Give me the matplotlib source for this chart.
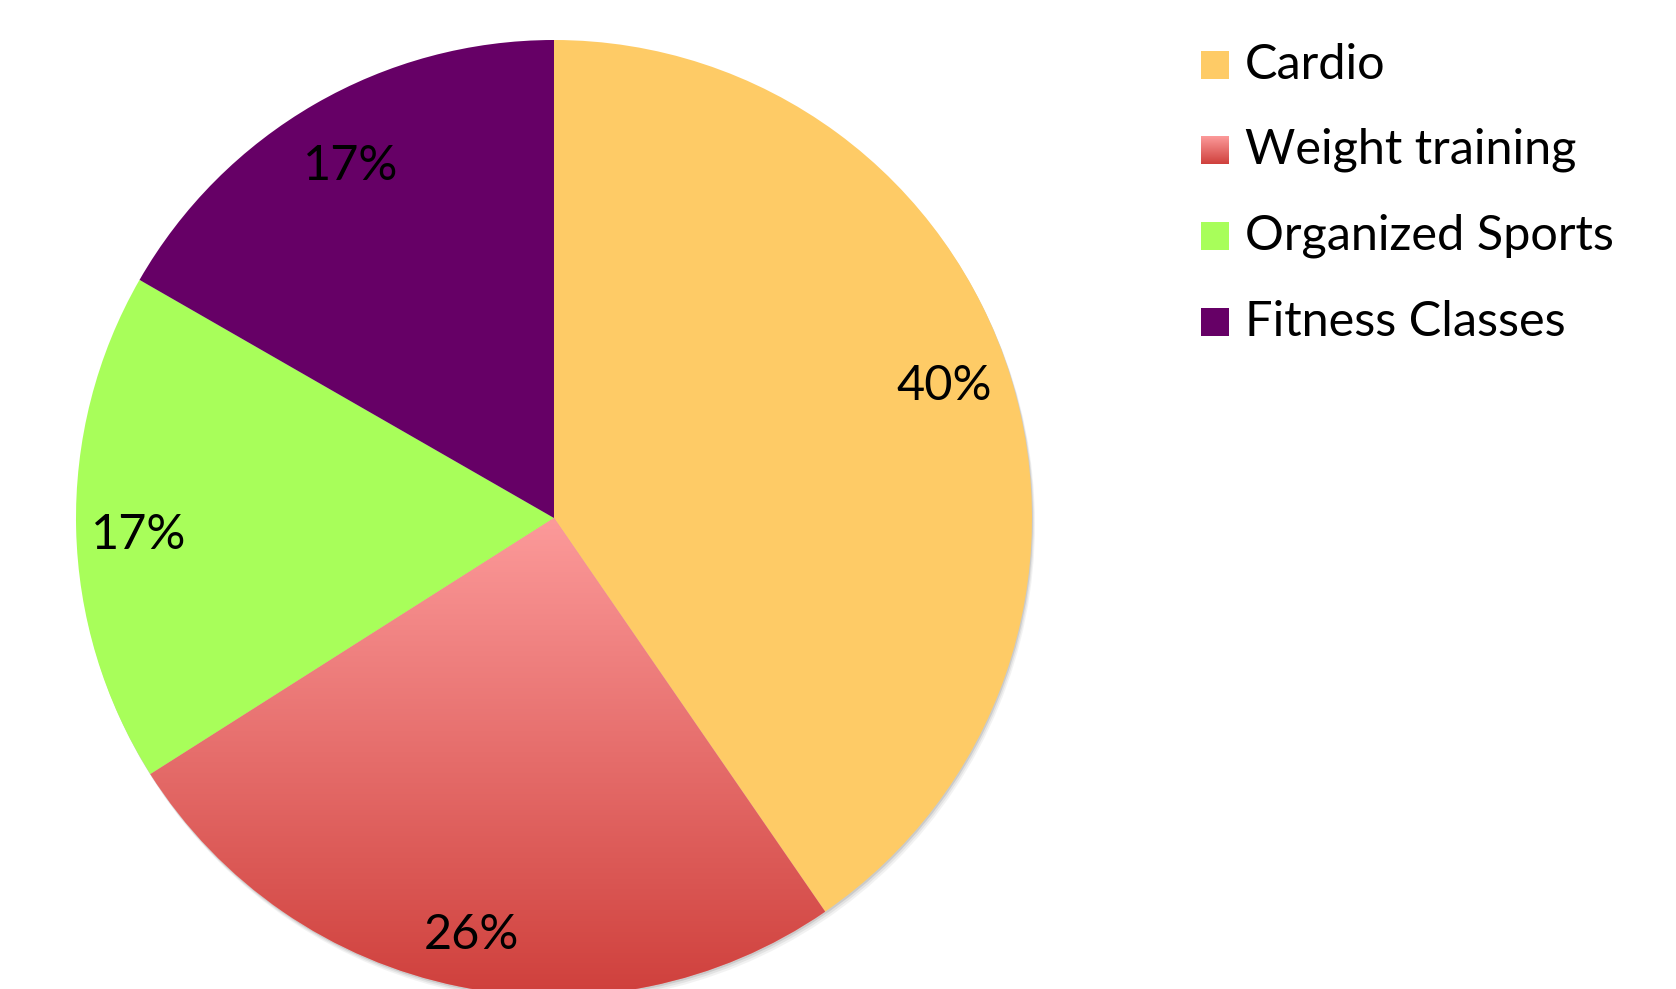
import numpy as np
import matplotlib.pyplot as plt
from matplotlib.patches import Circle, Rectangle
from matplotlib.colors import LinearSegmentedColormap

categories = ["Cardio", "Weight training", "Organized Sports", "Fitness Classes"]
shares = [40.4, 25.6, 17.3, 16.7]
colors = ["#FECB66", "#F7918F", "#A8FE5A", "#660066"]
grad_top = "#FC9A9A"
grad_bottom = "#CF403C"

plt.rcParams['font.family'] = ['Lato', 'DejaVu Sans']

W, H = 1676, 989
fig = plt.figure(figsize=(W / 100, H / 100), dpi=100)
ax = fig.add_axes([0, 0, 1, 1])
ax.set_xlim(0, W)
ax.set_ylim(0, H)
ax.set_aspect('equal')
ax.axis('off')

cx, cy, r = 554, H - 518, 478

# soft shadow behind the pie
for k, a in [(6, 0.10), (4, 0.15), (2, 0.25)]:
    ax.add_patch(Circle((cx + k * 0.5, cy - k), r, color="#888888", alpha=a, lw=0, zorder=0))

wedges, texts, autotexts = ax.pie(
    shares, colors=colors, startangle=90, counterclock=False,
    center=(cx, cy), radius=r, autopct='%.0f%%', pctdistance=0.87,
    textprops=dict(fontsize=35, color="black"),
    wedgeprops=dict(linewidth=0),
    frame=True,
)
ax.set_xlim(0, W)
ax.set_ylim(0, H)
ax.axis('off')

grad_cmap = LinearSegmentedColormap.from_list("wt", [grad_bottom, grad_top])

# vertical gradient fill on the weight training slice
w = wedges[1]
bb = w.get_path().get_extents(w.get_patch_transform())
grad = np.linspace(0, 1, 256).reshape(-1, 1)
im = ax.imshow(grad, cmap=grad_cmap, origin='lower', aspect='auto',
               extent=[bb.x0, bb.x1, bb.y0, bb.y1], zorder=w.get_zorder() + 0.1)
im.set_clip_path(w)

# small nudges so the labels sit where the original ones do
nudges = [(-7, 8), (0, -10), (0, -8), (5, -8)]
for t, (dx, dy) in zip(autotexts, nudges):
    x, y = t.get_position()
    t.set_position((x + dx, y + dy))
    t.set_zorder(5)

# legend
leg_x, box = 1201, 28
rows_y = [65, 150, 236, 322]
for name, col, yy in zip(categories, colors, rows_y):
    y = H - yy
    if name == "Weight training":
        ax.imshow(grad, cmap=grad_cmap, origin='lower', aspect='auto',
                  extent=[leg_x, leg_x + box, y - box / 2, y + box / 2], zorder=3)
    else:
        ax.add_patch(Rectangle((leg_x, y - box / 2), box, box, color=col, lw=0, zorder=3))
    ax.text(leg_x + box + 16, y, name, fontsize=35, va='center', ha='left')

ax.set_xlim(0, W)
ax.set_ylim(0, H)

fig.savefig("out.png", dpi=100)
